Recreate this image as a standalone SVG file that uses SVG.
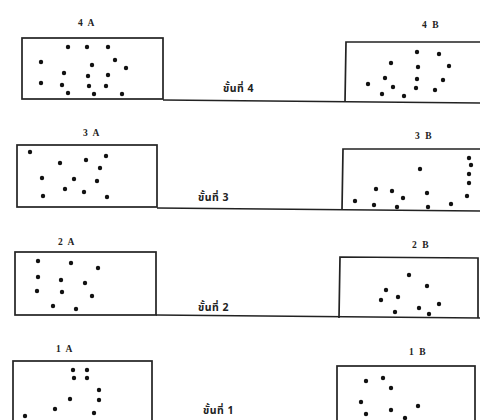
<svg xmlns="http://www.w3.org/2000/svg" width="480" height="420" viewBox="0 0 480 420">
<style>
.box{fill:none;stroke:#222;stroke-width:1.7}
.base{fill:none;stroke:#222;stroke-width:1.7}
.lbl{font-family:"Liberation Serif","DejaVu Serif",serif;font-weight:bold;font-size:9.5px;fill:#222;text-anchor:middle;letter-spacing:1.5px}
.th{font-family:"Noto Sans Thai","Noto Sans","DejaVu Sans",sans-serif;font-weight:bold;font-size:10.5px;fill:#222;letter-spacing:0.5px}
.d circle{fill:#111}
</style>
<rect width="480" height="420" fill="#fff"/>
<g id="connectors">
<line class="base" x1="163" y1="100" x2="480" y2="103"/>
<line class="base" x1="157" y1="208" x2="480" y2="211"/>
<line class="base" x1="156" y1="315" x2="480" y2="318"/>
</g>
<g id="box4A" class="d">
<rect class="box" x="22" y="38" width="141" height="61"/>
<text class="lbl" x="87" y="26">4 A</text>
<circle cx="68" cy="47" r="2.2"/><circle cx="87" cy="47" r="2.2"/><circle cx="108" cy="47" r="2.2"/>
<circle cx="41" cy="62" r="2.2"/><circle cx="115" cy="60" r="2.2"/><circle cx="92" cy="65" r="2.2"/>
<circle cx="126" cy="68" r="2.2"/><circle cx="64" cy="73" r="2.2"/><circle cx="88" cy="76" r="2.2"/>
<circle cx="108" cy="75" r="2.2"/><circle cx="41" cy="83" r="2.2"/><circle cx="62" cy="85" r="2.2"/>
<circle cx="89" cy="86" r="2.2"/><circle cx="106" cy="86" r="2.2"/><circle cx="68" cy="93" r="2.2"/>
<circle cx="94" cy="94" r="2.2"/><circle cx="122" cy="94" r="2.2"/>
</g>
<g id="box4B" class="d">
<path class="box" d="M483 42 L346 42 L345 102"/>
<text class="lbl" x="431" y="28">4 B</text>
<circle cx="417" cy="52" r="2.2"/><circle cx="439" cy="54" r="2.2"/><circle cx="391" cy="63" r="2.2"/>
<circle cx="418" cy="67" r="2.2"/><circle cx="449" cy="66" r="2.2"/><circle cx="385" cy="78" r="2.2"/>
<circle cx="417" cy="79" r="2.2"/><circle cx="443" cy="80" r="2.2"/><circle cx="368" cy="84" r="2.2"/>
<circle cx="393" cy="87" r="2.2"/><circle cx="416" cy="88" r="2.2"/><circle cx="435" cy="90" r="2.2"/>
<circle cx="382" cy="94" r="2.2"/><circle cx="404" cy="96" r="2.2"/>
</g>
<g id="label4"><text class="th" x="223" y="92">ขั้นที่ 4</text></g>
<g id="box3A" class="d">
<rect class="box" x="17" y="145" width="140" height="62"/>
<text class="lbl" x="92" y="136">3 A</text>
<circle cx="30" cy="152" r="2.2"/><circle cx="60" cy="163" r="2.2"/><circle cx="86" cy="160" r="2.2"/>
<circle cx="106" cy="156" r="2.2"/><circle cx="100" cy="168" r="2.2"/><circle cx="42" cy="178" r="2.2"/>
<circle cx="74" cy="179" r="2.2"/><circle cx="97" cy="181" r="2.2"/><circle cx="65" cy="189" r="2.2"/>
<circle cx="84" cy="192" r="2.2"/><circle cx="43" cy="196" r="2.2"/><circle cx="107" cy="197" r="2.2"/>
</g>
<g id="box3B" class="d">
<path class="box" d="M483 149 L343 149 L342 210"/>
<text class="lbl" x="424" y="139">3 B</text>
<circle cx="420" cy="169" r="2.2"/><circle cx="469" cy="158" r="2.2"/><circle cx="471" cy="165" r="2.2"/>
<circle cx="469" cy="174" r="2.2"/><circle cx="469" cy="183" r="2.2"/><circle cx="467" cy="196" r="2.2"/>
<circle cx="376" cy="189" r="2.2"/><circle cx="392" cy="191" r="2.2"/><circle cx="403" cy="198" r="2.2"/>
<circle cx="427" cy="193" r="2.2"/><circle cx="355" cy="201" r="2.2"/><circle cx="374" cy="205" r="2.2"/>
<circle cx="397" cy="207" r="2.2"/><circle cx="428" cy="207" r="2.2"/><circle cx="451" cy="204" r="2.2"/>
</g>
<g id="label3"><text class="th" x="198" y="201">ขั้นที่ 3</text></g>
<g id="box2A" class="d">
<rect class="box" x="15" y="252" width="141" height="63"/>
<text class="lbl" x="67" y="245">2 A</text>
<circle cx="38" cy="261" r="2.2"/><circle cx="71" cy="263" r="2.2"/><circle cx="98" cy="268" r="2.2"/>
<circle cx="38" cy="277" r="2.2"/><circle cx="61" cy="280" r="2.2"/><circle cx="85" cy="283" r="2.2"/>
<circle cx="37" cy="291" r="2.2"/><circle cx="62" cy="292" r="2.2"/><circle cx="92" cy="296" r="2.2"/>
<circle cx="53" cy="306" r="2.2"/><circle cx="76" cy="309" r="2.2"/>
</g>
<g id="box2B" class="d">
<path class="box" d="M339 318 L340 257 L478 258 L478 318"/>
<text class="lbl" x="421" y="248">2 B</text>
<circle cx="409" cy="275" r="2.2"/><circle cx="427" cy="286" r="2.2"/><circle cx="386" cy="290" r="2.2"/>
<circle cx="398" cy="297" r="2.2"/><circle cx="381" cy="300" r="2.2"/><circle cx="439" cy="304" r="2.2"/>
<circle cx="419" cy="308" r="2.2"/><circle cx="395" cy="312" r="2.2"/><circle cx="429" cy="314" r="2.2"/>
</g>
<g id="label2"><text class="th" x="198" y="311">ขั้นที่ 2</text></g>
<g id="box1A" class="d">
<rect class="box" x="13" y="361" width="139" height="70"/>
<text class="lbl" x="65" y="352">1 A</text>
<circle cx="73" cy="370" r="2.2"/><circle cx="87" cy="370" r="2.2"/><circle cx="74" cy="378" r="2.2"/>
<circle cx="87" cy="378" r="2.2"/><circle cx="99" cy="390" r="2.2"/><circle cx="70" cy="399" r="2.2"/>
<circle cx="99" cy="400" r="2.2"/><circle cx="55" cy="409" r="2.2"/><circle cx="94" cy="413" r="2.2"/>
<circle cx="25" cy="416" r="2.2"/>
</g>
<g id="box1B" class="d">
<rect class="box" x="337" y="366" width="138" height="70"/>
<text class="lbl" x="418" y="355">1 B</text>
<circle cx="366" cy="381" r="2.2"/><circle cx="383" cy="378" r="2.2"/><circle cx="391" cy="388" r="2.2"/>
<circle cx="361" cy="402" r="2.2"/><circle cx="418" cy="406" r="2.2"/><circle cx="391" cy="410" r="2.2"/>
<circle cx="366" cy="414" r="2.2"/><circle cx="405" cy="418" r="2.2"/>
</g>
<g id="label1"><text class="th" x="203" y="414">ขั้นที่ 1</text></g>
</svg>
